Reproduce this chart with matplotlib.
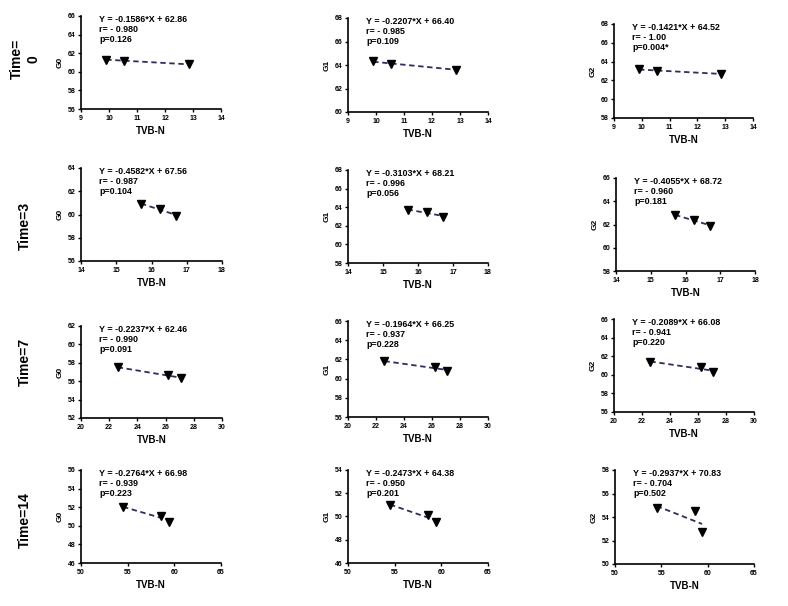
import matplotlib
matplotlib.use("Agg")
import matplotlib.pyplot as plt
import numpy as np

plt.rcParams['font.family'] = ['Liberation Sans', 'DejaVu Sans']
plt.rcParams['font.weight'] = 'bold'

# TVB-N values for each storage time
tvbn_t0 = [9.9, 10.55, 12.85]
tvbn_t3 = [15.7, 16.25, 16.7]
tvbn_t7 = [22.6, 26.2, 27.1]
tvbn_t14 = [54.5, 58.6, 59.4]

# G0 / G1 / G2 values per time
g0_t0 = [61.3, 61.2, 60.8]
g1_t0 = [64.3, 64.1, 63.6]
g2_t0 = [63.2, 63.0, 62.7]

g0_t3 = [60.9, 60.5, 59.9]
g1_t3 = [63.7, 63.5, 63.0]
g2_t3 = [62.8, 62.4, 61.9]

g0_t7 = [57.5, 56.7, 56.3]
g1_t7 = [61.8, 61.2, 60.8]
g2_t7 = [61.4, 60.8, 60.3]

g0_t14 = [52.0, 51.1, 50.4]
g1_t14 = [51.0, 50.1, 49.5]
g2_t14 = [54.8, 54.5, 52.7]

row_labels = ['Time=\n0', 'Time=3', 'Time=7', 'Time=14']
col_labels = ['G0', 'G1', 'G2']

stats = [
    ['Y = -0.1586*X + 62.86\nr= - 0.980\np=0.126',
     'Y = -0.2207*X + 66.40\nr= - 0.985\np=0.109',
     'Y = -0.1421*X + 64.52\nr= - 1.00\np=0.004*'],
    ['Y = -0.4582*X + 67.56\nr= - 0.987\np=0.104',
     'Y = -0.3103*X + 68.21\nr= - 0.996\np=0.056',
     'Y = -0.4055*X + 68.72\nr= - 0.960\np=0.181'],
    ['Y = -0.2237*X + 62.46\nr= - 0.990\np=0.091',
     'Y = -0.1964*X + 66.25\nr= - 0.937\np=0.228',
     'Y = -0.2089*X + 66.08\nr= - 0.941\np=0.220'],
    ['Y = -0.2764*X + 66.98\nr= - 0.939\np=0.223',
     'Y = -0.2473*X + 64.38\nr= - 0.950\np=0.201',
     'Y = -0.2937*X + 70.83\nr= - 0.704\np=0.502'],
]

xs = [tvbn_t0, tvbn_t3, tvbn_t7, tvbn_t14]
ys = [[g0_t0, g1_t0, g2_t0],
      [g0_t3, g1_t3, g2_t3],
      [g0_t7, g1_t7, g2_t7],
      [g0_t14, g1_t14, g2_t14]]

xticks = [np.arange(9, 15, 1), np.arange(14, 19, 1),
          np.arange(20, 31, 2), np.arange(50, 66, 5)]
yticks = [
    [np.arange(56, 67, 2), np.arange(60, 69, 2), np.arange(58, 69, 2)],
    [np.arange(56, 65, 2), np.arange(58, 69, 2), np.arange(58, 67, 2)],
    [np.arange(52, 63, 2), np.arange(56, 67, 2), np.arange(56, 67, 2)],
    [np.arange(46, 57, 2), np.arange(46, 55, 2), np.arange(50, 59, 2)],
]

W, H = 788, 606
# axes boxes in pixels: left, top, right, bottom
boxes = [
    [(81, 16, 221, 109), (348, 18, 488, 112), (614, 24, 753, 118)],
    [(81, 168, 222, 261), (348, 170, 488, 263), (616, 178, 755, 271)],
    [(81, 326, 222, 418), (348, 321, 488, 417), (614, 319, 754, 412)],
    [(81, 470, 221, 563), (348, 470, 488, 563), (615, 470, 754, 564)],
]
row_label_y = [59, 226, 362, 520]

fig = plt.figure(figsize=(W / 100, H / 100), dpi=100)

for i in range(4):
    for j in range(3):
        l, t, r, b = boxes[i][j]
        ax = fig.add_axes([l / W, 1 - b / H, (r - l) / W, (b - t) / H])
        x = np.array(xs[i])
        y = np.array(ys[i][j])
        k, c = np.polyfit(x, y, 1)
        ax.plot(x, k * x + c, color='#2e2e5e', linestyle=(0, (3, 2)), lw=1.3)
        ax.plot(x, y, 'v', color='black', markersize=5.5)
        ax.set_xlim(xticks[i][0], xticks[i][-1])
        ax.set_ylim(yticks[i][j][0], yticks[i][j][-1])
        ax.set_xticks(xticks[i])
        ax.set_yticks(yticks[i][j])
        ax.tick_params(labelsize=5, length=2.5, width=1, pad=1.5)
        for s in ['top', 'right']:
            ax.spines[s].set_visible(False)
        for s in ['left', 'bottom']:
            ax.spines[s].set_linewidth(1.2)
        ax.set_xlabel('TVB-N', fontsize=7, fontweight='bold', labelpad=3)
        ax.set_ylabel(col_labels[j], fontsize=6, fontweight='bold', labelpad=3)
        ax.text(0.13, 1.01, stats[i][j], transform=ax.transAxes, fontsize=6.4,
                fontweight='bold', va='top', ha='left', linespacing=1.15)
    fig.text(25 / W, 1 - row_label_y[i] / H, row_labels[i], rotation=90,
             fontsize=10, fontweight='bold', ha='center', va='center',
             multialignment='center')

fig.savefig('out.png', dpi=100)
